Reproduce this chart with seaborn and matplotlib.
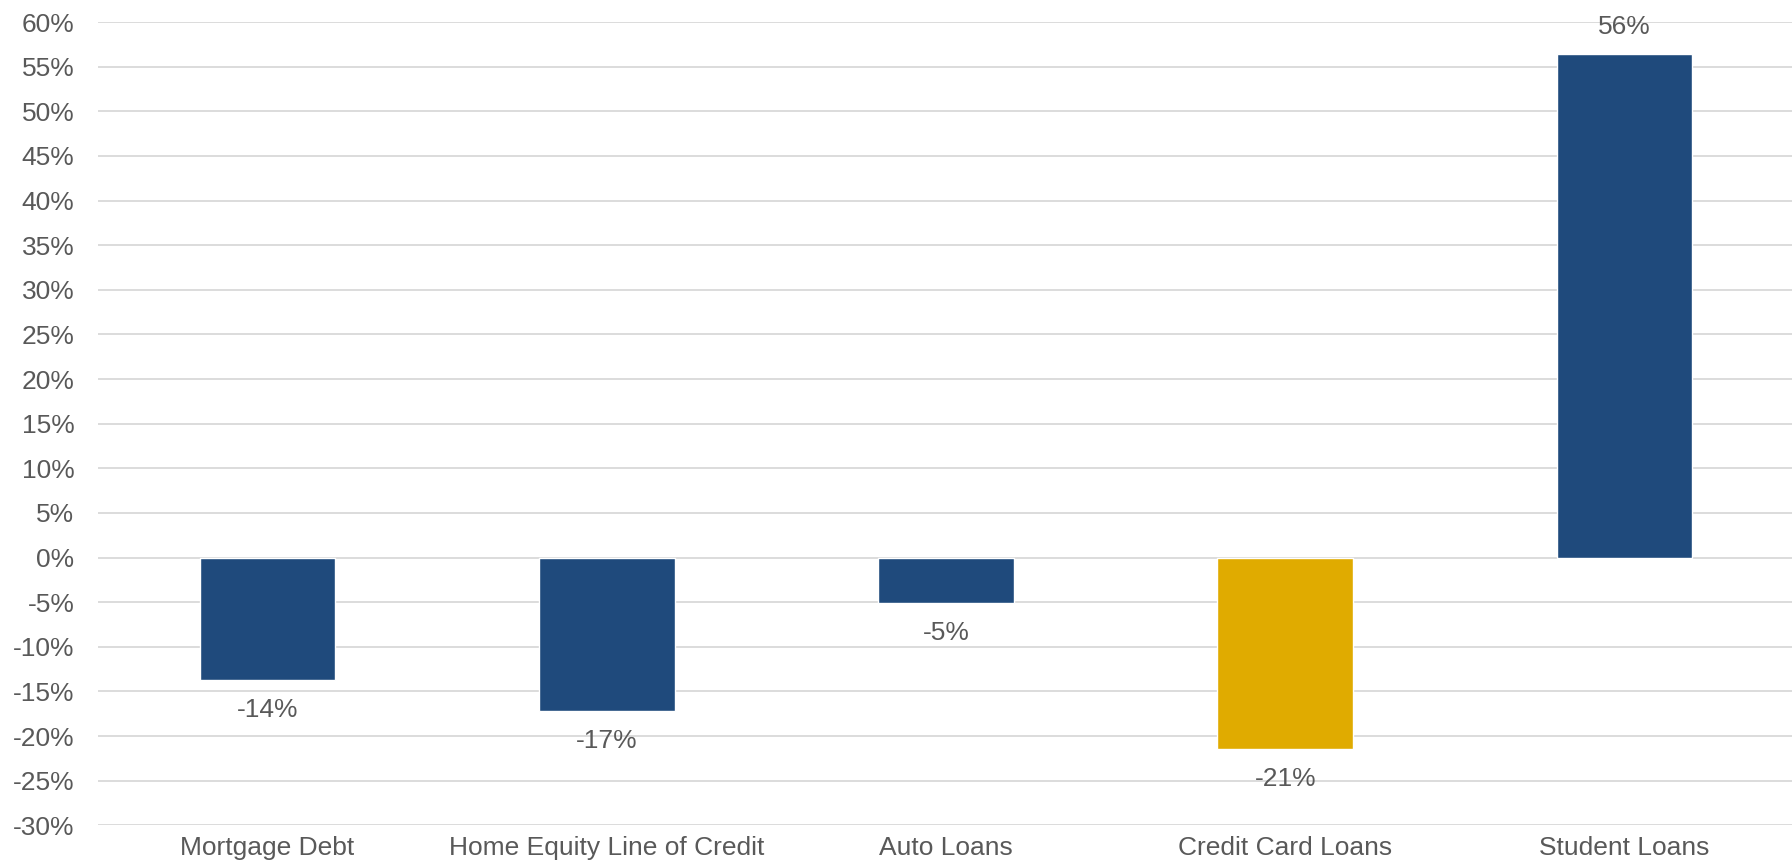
import matplotlib
matplotlib.use("Agg")
import matplotlib.pyplot as plt
import seaborn as sns
import pandas as pd

categories = ["Mortgage Debt", "Home Equity Line of Credit", "Auto Loans",
              "Credit Card Loans", "Student Loans"]
pct_change = [-13.7, -17.2, -5.1, -21.4, 56.4]
bar_colors = ["#1F4A7C", "#1F4A7C", "#1F4A7C", "#E0AB00", "#1F4A7C"]
y_ticks = list(range(-30, 61, 5))

sns.set_theme(style="white")
plt.rcParams["font.family"] = ["Liberation Sans", "DejaVu Sans"]
text_color = "#595959"

df = pd.DataFrame({"category": categories, "change": pct_change})

fig = plt.figure(figsize=(17.92, 8.66), dpi=100)
ax = fig.add_axes([98 / 1792, 1 - 825.3 / 866, (1794 - 98) / 1792, (825.3 - 22) / 866])

sns.barplot(data=df, x="category", y="change", hue="category",
            palette=dict(zip(categories, bar_colors)), width=0.4,
            legend=False, saturation=1, ax=ax, zorder=3)

ax.set_ylim(-30, 60)
ax.set_xlim(-0.5, len(categories) - 0.5)
ax.set_yticks(y_ticks)
ax.set_yticklabels([f"{t}%" for t in y_ticks])
ax.yaxis.grid(True, color="#D9D9D9", linewidth=1.3, zorder=0)
ax.xaxis.grid(False)
ax.set_axisbelow(True)
for s in ax.spines.values():
    s.set_visible(False)
ax.tick_params(axis="y", length=0, pad=17, labelsize=19, labelcolor=text_color)
ax.tick_params(axis="x", length=0, pad=8, labelsize=19, labelcolor=text_color)
ax.set_xlabel("")
ax.set_ylabel("")

# value labels just outside each bar end
for i, v in enumerate(pct_change):
    if v >= 0:
        ax.annotate(f"{round(v)}%", (i, v), xytext=(0, 11), textcoords="offset points",
                    ha="center", va="bottom", fontsize=19, color=text_color)
    else:
        ax.annotate(f"{round(v)}%", (i, v), xytext=(0, -13), textcoords="offset points",
                    ha="center", va="top", fontsize=19, color=text_color)

fig.savefig("out.png", dpi=100)
